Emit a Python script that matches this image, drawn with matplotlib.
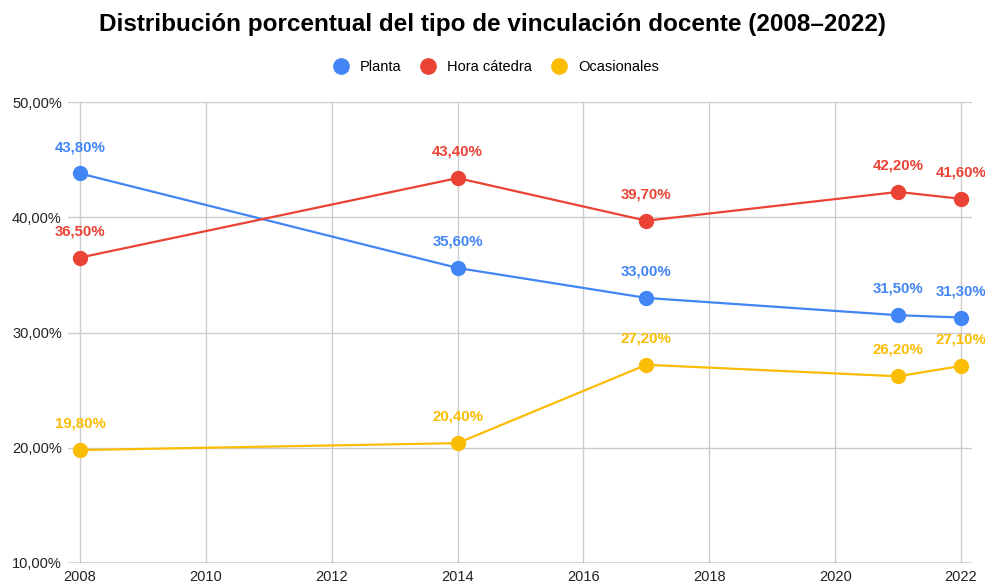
import matplotlib
matplotlib.use("Agg")
import matplotlib.pyplot as plt
from matplotlib.lines import Line2D

plt.rcParams['font.family'] = ['Liberation Sans', 'DejaVu Sans']

years = [2008, 2014, 2017, 2021, 2022]
planta = [43.8, 35.6, 33.0, 31.5, 31.3]
hora_catedra = [36.5, 43.4, 39.7, 42.2, 41.6]
ocasionales = [19.8, 20.4, 27.2, 26.2, 27.1]

series = [
    ("Planta", planta, "#4285F4"),
    ("Hora cátedra", hora_catedra, "#EA4335"),
    ("Ocasionales", ocasionales, "#FBBC04"),
]

x_ticks = list(range(2008, 2023, 2))
y_ticks = [10, 20, 30, 40, 50]


def pct(v):
    return f"{v:.2f}".replace(".", ",") + "%"


fig = plt.figure(figsize=(9.85, 5.81), dpi=100)
# axes box = grid area (68..972 px); years 2008..2022 sit at 80..961 px
ax = fig.add_axes([68 / 985, 1 - 563 / 581, 904 / 985, 461 / 581])

span = 14 / 881
ax.set_xlim(2008 - 12 * span, 2022 + 11 * span)
ax.set_ylim(10, 50)

for x in x_ticks:
    ax.plot([x, x], [10, 50], color="#cccccc", lw=1, zorder=0)
for y in y_ticks:
    ax.axhline(y, color="#333333" if y == 10 else "#cccccc", lw=1, zorder=0)

for name, vals, col in series:
    ax.plot(years, vals, color=col, lw=1.6, marker="o", ms=10, zorder=3)
    for x, v in zip(years, vals):
        ax.annotate(pct(v), (x, v), xytext=(0, 19), textcoords="offset points",
                    ha="center", va="center", color=col, fontsize=10.8,
                    fontweight="bold", zorder=4)

for s in ax.spines.values():
    s.set_visible(False)
ax.set_xticks(x_ticks)
ax.set_xticklabels([str(x) for x in x_ticks])
ax.set_yticks(y_ticks)
ax.set_yticklabels([pct(y) for y in y_ticks])
ax.tick_params(length=0, labelsize=10.5, colors="#222222")
ax.tick_params(axis="y", pad=4.5)
ax.tick_params(axis="x", pad=5)

fig.text(0.5, 1 - 25 / 581, "Distribución porcentual del tipo de vinculación docente (2008–2022)",
         ha="center", va="center", fontsize=17.5, fontweight="bold")

handles = [Line2D([], [], ls="none", marker="o", ms=11, color=c) for _, _, c in series]
fig.legend(handles, [n for n, _, _ in series], loc="center",
           bbox_to_anchor=(0.5, 1 - 67 / 581), ncol=3, frameon=False,
           fontsize=10.5, handletextpad=0.3, columnspacing=0.85)

fig.savefig("out.png", dpi=100)
